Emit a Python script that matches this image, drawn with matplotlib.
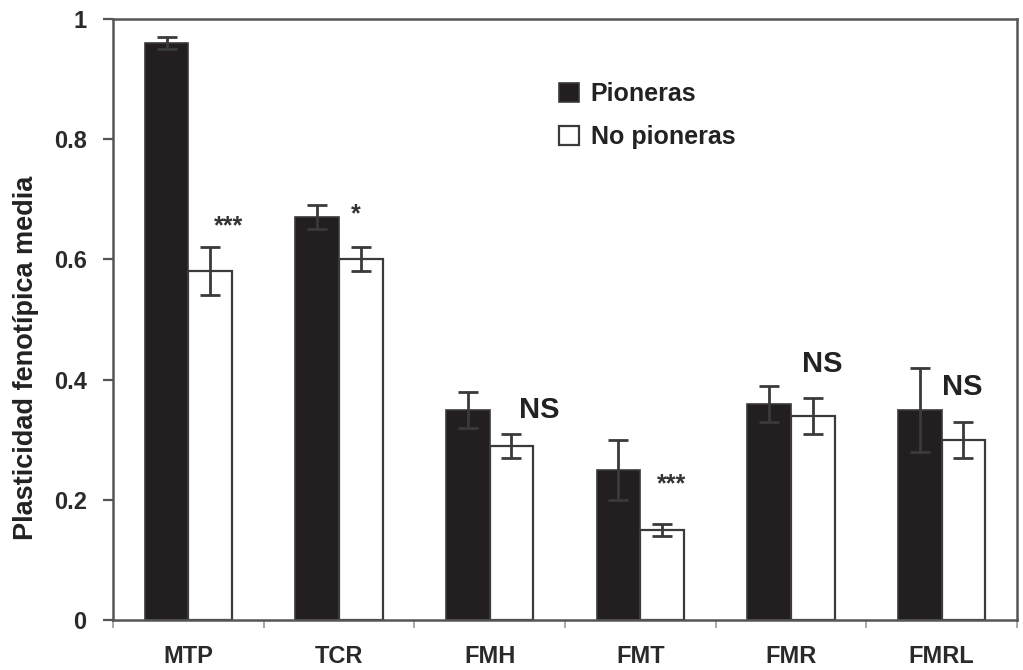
import matplotlib.pyplot as plt
import numpy as np

plt.rcParams['font.family'] = ['Liberation Sans', 'DejaVu Sans']

categories = ['MTP', 'TCR', 'FMH', 'FMT', 'FMR', 'FMRL']
pioneras = [0.96, 0.67, 0.35, 0.25, 0.36, 0.35]
pioneras_err = [0.01, 0.02, 0.03, 0.05, 0.03, 0.07]
no_pioneras = [0.58, 0.60, 0.29, 0.15, 0.34, 0.30]
no_pioneras_err = [0.04, 0.02, 0.02, 0.01, 0.03, 0.03]
signif = ['***', '*', 'NS', '***', 'NS', 'NS']
# where each significance mark sits (offset from group centre, baseline height)
signif_dx = [0.265, 0.11, 0.33, 0.21, 0.205, 0.14]
signif_y = [0.643, 0.663, 0.336, 0.214, 0.4125, 0.3745]

fig = plt.figure(figsize=(10.23, 6.7), dpi=100)
ax = fig.add_axes([0.1105, 0.0746, 0.8835, 0.897])

x = np.arange(len(categories))
w = 0.29
edge = '#3a3a3a'
ax.bar(x - w / 2, pioneras, w, color='#231f20', edgecolor=edge, linewidth=1.2,
       label='Pioneras', zorder=2)
ax.bar(x + w / 2, no_pioneras, w, color='white', edgecolor=edge, linewidth=1.6,
       label='No pioneras', zorder=2)
ax.errorbar(x - w / 2, pioneras, yerr=pioneras_err, fmt='none', ecolor=edge,
            elinewidth=2, capsize=7.5, capthick=2, zorder=3)
ax.errorbar(x + w / 2, no_pioneras, yerr=no_pioneras_err, fmt='none', ecolor=edge,
            elinewidth=2, capsize=7.5, capthick=2, zorder=3)

for i, s in enumerate(signif):
    if s == 'NS':
        ax.text(x[i] + signif_dx[i], signif_y[i], s, fontsize=21, fontweight='bold',
                color='#222222', ha='center', va='baseline')
    else:
        ax.text(x[i] + signif_dx[i], signif_y[i], s, fontsize=18, fontweight='bold',
                color='#333333', ha='center', va='baseline')

ax.set_xlim(-0.5, len(categories) - 0.5)
ax.set_ylim(0, 1)
ax.set_xticks(x)
ax.set_xticklabels(categories, fontsize=17, fontweight='bold', color='#2a2a2a')
ax.set_xticks(np.arange(len(categories) + 1) - 0.5, minor=True)
ax.tick_params(axis='x', which='major', length=0, pad=18)
ax.tick_params(axis='x', which='minor', length=6, width=1.2, color='#999999')
ax.set_yticks([0, 0.2, 0.4, 0.6, 0.8, 1])
ax.set_yticklabels(['0', '0.2', '0.4', '0.6', '0.8', '1'], fontsize=17,
                   fontweight='bold', color='#2a2a2a')
ax.tick_params(axis='y', length=7, width=1.6, color='#555555', pad=12)
for sp in ax.spines.values():
    sp.set_color('#555555')
    sp.set_linewidth(1.8)

ax.set_ylabel('Plasticidad fenotípica media', fontsize=19.5, fontweight='bold',
              color='#222222', va='center')
ax.yaxis.set_label_coords(-0.0963, 0.436)

leg = ax.legend(loc='upper left', bbox_to_anchor=(0.469, 0.933), frameon=False,
                prop={'size': 18, 'weight': 'bold'}, handlelength=0.8,
                handleheight=0.8, handletextpad=0.45, labelspacing=0.76)
for t in leg.get_texts():
    t.set_color('#222222')

fig.savefig('out.png', dpi=100)
